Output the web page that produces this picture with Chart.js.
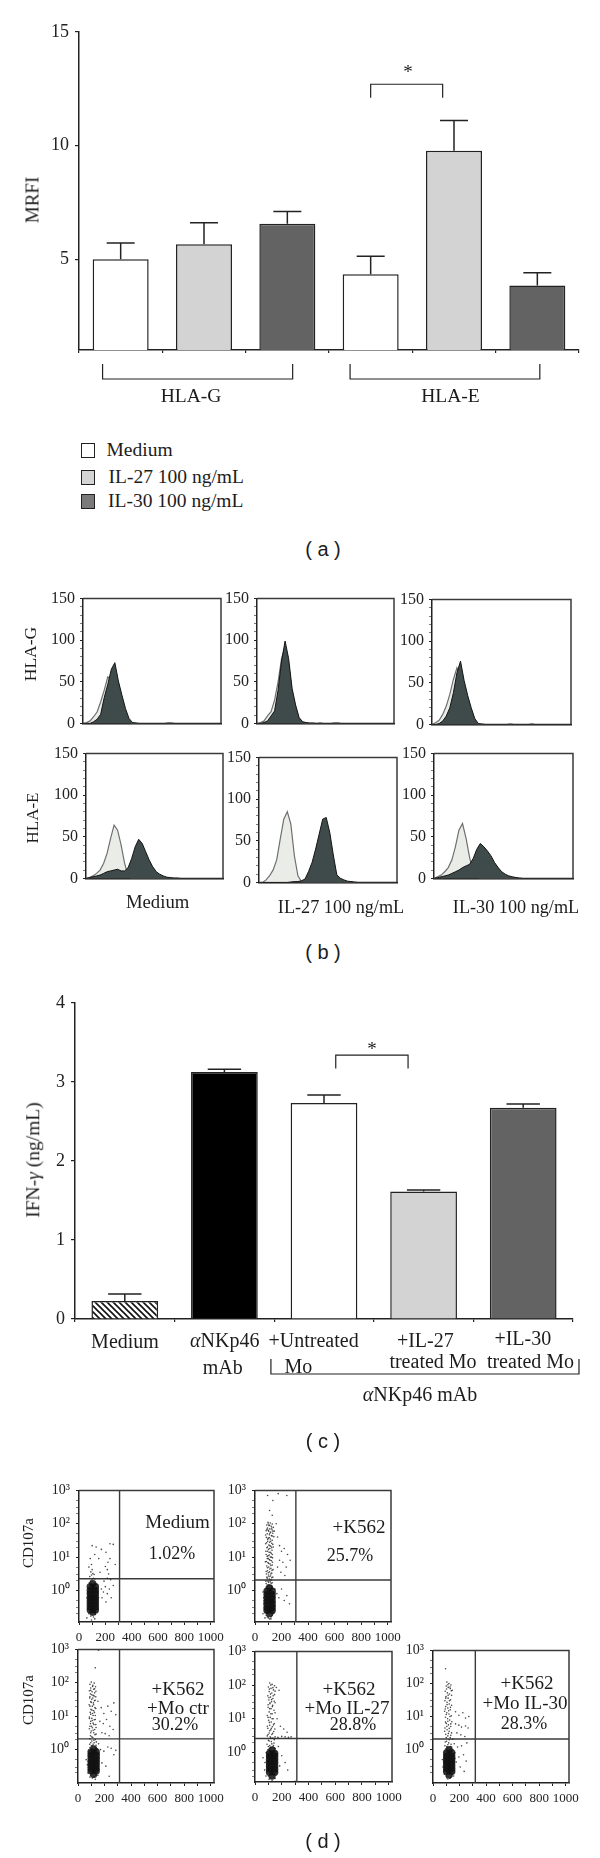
<!DOCTYPE html>
<html>
<head>
<meta charset="utf-8">
<script src="https://cdn.jsdelivr.net/npm/chart.js@4"></script>
<style>
  html, body { margin: 0; background: #fff; }
  #page { position: relative; width: 600px; height: 1858px; overflow: hidden; }
  canvas { position: absolute; }
  .t { position: absolute; white-space: nowrap; color: #1c1c1c; font-family: "Liberation Serif", serif; transform: translate(-50%, -50%); line-height: 1; }
  .r { transform: translate(-50%, -50%) rotate(-90deg); }
  .cap { font-family: "Liberation Sans", sans-serif; font-size: 20px; }
  .sw { position: absolute; width: 14px; box-sizing: border-box; border: 1.5px solid #222; }
</style>
</head>
<body>
<div id="page"></div>
<script>
// Panel (a)
const labelsA = ['G Medium', 'G IL-27', 'G IL-30', 'E Medium', 'E IL-27', 'E IL-30'];
const valuesA = [5.0, 5.66, 6.56, 4.33, 9.77, 3.84];
const errTopsA = [5.71, 6.6, 7.1, 5.13, 11.1, 4.4];
const ticksA = [5, 10, 15];

// Panel (c)
const labelsC = ['Medium', 'aNKp46 mAb', '+Untreated Mo', '+IL-27 treated Mo', '+IL-30 treated Mo'];
const valuesC = [0.227, 3.126, 2.734, 1.613, 2.675];
const errTopsC = [0.316, 3.16, 2.835, 1.634, 2.72];
const ticksC = [0, 1, 2, 3, 4];

// Panel (b) histogramas, 40 canales
const histTicks = [0, 10, 20, 30, 40, 50, 60, 70, 80, 90, 100, 110, 120, 130, 140, 150];
const gMediumLight = [0,1,3,8,14,26,40,56,52,50,32,22,10,3,0,0,0,0,0,0,0,0,0,0,0,0,0,0,0,0,0,0,0,0,0,0,0,0,0,0];
const gMediumDark = [0,0,0,2,5,11,31,47,65,73,51,34,18,6,1,0.5,0,0,0,0,0,0,0,0,0.5,0.5,0,0,0,0,0,0,0,0,0,0,0,0,0,0];
const gIl27Light = [0,1,3,9,14,28,50,78,92,70,35,16,5,1,0,0,0,0,0,0,0,0,0,0,0,0,0,0,0,0,0,0,0,0,0,0,0,0,0,0];
const gIl27Dark = [0,0,1,3,9,15,40,75,99,78,42,22,7,2,1,0.5,0.5,0,0.5,0,0,0,0.5,0.5,0,0,0,0,0,0,0,0,0,0,0,0,0,0,0,0];
const gIl30Light = [0,2,5,12,22,36,54,68,58,42,28,14,4,0,0,0,0,0,0,0,0,0,0,0,0,0,0,0,0,0,0,0,0,0,0,0,0,0,0,0];
const gIl30Dark = [0,0,1,4,10,20,38,62,76,53,35,20,7,1,0.5,0,0,0,0,0,0,0,0.5,0,0,0,0,0,0.5,0,0,0,0,0,0,0,0,0,0,0];
const eMediumLight = [0,1,3,6,10,18,30,48,64,58,40,18,3,0,0,0,0,0,0,0,0,0,0,0,0,0,0,0,0,0,0,0,0,0,0,0,0,0,0,0];
const eMediumDark = [0,1,2,3,4,6,8,9,10,11,9,9,13,24,38,47,42,32,22,14,8,5,3,1.5,1,0.5,0.5,0,0,0,0,0,0,0,0,0,0,0,0,0];
const eIl27Light = [0,0,3,8,15,27,52,76,85,70,32,8,1,0,0,0,0,0,0,0,0,0,0,0,0,0,0,0,0,0,0,0,0,0,0,0,0,0,0,0];
const eIl27Dark = [0,0,0,0,0,0,0,0,0,0.5,1,1,2,4,13,24,40,58,76,78,60,33,9,5,3,1.5,1,0.5,0,0,0,0,0,0,0,0,0,0,0,0];
const eIl30Light = [0,2,4,8,13,22,38,58,66,48,25,8,2,0,0,0,0,0,0,0,0,0,0,0,0,0,0,0,0,0,0,0,0,0,0,0,0,0,0,0];
const eIl30Dark = [0,1,2,3,4,6,8,10,13,15,17,24,35,42,38,33,27,19,13,8,5,3,2,1,0.5,0,0,0,0,0,0,0,0,0,0,0,0,0,0,0];

// Panel (d) citometría
const dotTicksX = [0, 100, 200, 300, 400, 500, 600, 700, 800, 900, 1000];
const dotTicksY = [0.2, 0.3, 0.5, 1, 2, 3, 5, 10, 20, 30, 50, 100, 200, 300, 500, 1000];
const decadeLabels = { 1: '10⁰', 10: '10¹', 100: '10²', 1000: '10³' };
const yMins = [0.113, 0.113, 0.1, 0.133, 0.098];
const quadX = [308, 308, 313, 313, 319];
const quadY = [2.25, 2.05, 2.1, 2.6, 2.1];
const coreMedium = [[105,1.6],[85,1.3],[125,1.3],[85,1],[125,1],[85,0.8],[125,0.8],[85,0.62],[125,0.62],[85,0.5],[125,0.5],[85,0.4],[125,0.4],[85,0.32],[125,0.32],[85,0.26],[125,0.26],[105,0.22]];
const dotsMedium = [[75,0.2],[90,0.17],[110,0.16],[125,0.19],[135,0.3],[70,0.3],[66,0.45],[62,0.6],[68,0.8],[72,1.1],[140,0.45],[148,0.6],[145,0.8],[140,1.1],[135,1.5],[78,1.7],[88,1.9],[98,2.1],[108,2.3],[120,2.2],[82,2.6],[95,2.9],[105,3.2],[90,3.6],[100,4.2],[115,3],[75,5],[95,6],[170,1.1],[185,0.9],[200,1.3],[215,0.8],[230,1.1],[245,0.6],[190,1.9],[215,2.3],[240,2.1],[260,1.4],[175,0.6],[205,0.45],[160,3.5],[215,4.2],[225,3.1],[200,5.2],[220,7],[235,9],[205,14],[170,17],[130,20],[100,22],[235,25],[260,24],[275,6],[150,9],[120,12],[85,9],[60,0.15],[95,0.13],[120,0.14],[85,1.4]];
const coreK562 = [[110,1.2],[90,0.95],[130,0.95],[90,0.75],[130,0.75],[90,0.6],[130,0.6],[90,0.47],[130,0.47],[90,0.38],[130,0.38],[90,0.3],[130,0.3],[90,0.25],[130,0.25],[110,0.2]];
const dotsK562 = [[98,110],[115,105],[130,98],[88,92],[105,88],[122,84],[138,78],[94,74],[112,70],[128,66],[84,62],[103,60],[118,56],[134,52],[92,50],[108,47],[124,44],[142,41],[86,39],[100,37],[116,35],[130,32],[96,30],[110,28],[126,26],[80,25],[104,23],[120,21],[138,20],[90,19],[112,18],[128,16],[94,15],[106,14],[122,13],[84,12],[100,11],[116,10],[132,9.5],[92,9],[108,8.4],[124,7.8],[78,7.2],[98,6.8],[114,6.2],[130,5.8],[88,5.4],[104,5],[120,4.6],[136,4.2],[94,3.9],[110,3.6],[126,3.3],[86,3.1],[102,2.9],[118,2.7],[134,2.5],[92,2.3],[108,2.2],[124,2.05],[98,1.9],[114,1.8],[130,1.7],[84,1.6],[104,1.5],[120,1.4],[96,1.3],[112,1.25],[128,1.2],[170,40],[185,22],[200,15],[220,18],[245,12],[265,8],[185,8],[210,7],[235,5],[170,5],[195,3.5],[225,2.8],[150,1.1],[165,0.8],[180,0.6],[200,1.1],[220,0.5],[240,0.7],[260,0.4],[160,100],[110,250],[135,500],[175,800],[95,700],[240,700],[130,180],[145,60],[60,0.2],[70,0.3],[140,0.2],[150,0.35],[75,0.15],[120,0.14],[65,0.6],[60,0.9],[148,0.6]];
const moreK562 = [[70,0.5],[74,0.7],[68,0.4],[72,0.28],[78,0.22],[84,0.18],[92,0.16],[100,0.15],[110,0.14],[120,0.16],[130,0.18],[138,0.22],[142,0.3],[146,0.42],[144,0.55],[140,0.7],[136,0.9],[132,1.1],[76,0.95],[80,1.15],[86,1.3],[92,1.1],[126,1.3],[100,98],[110,90],[126,74],[90,68],[100,64],[135,60],[112,52],[80,46],[130,43],[108,38],[96,34],[118,30],[88,27],[134,24],[112,22],[94,20],[126,19],[102,17],[82,15],[116,14],[130,12],[108,11.5],[92,10.5],[124,10],[100,9],[114,8],[86,7.4],[132,7],[104,6.4],[120,5.6],[94,4.8],[112,4.4],[128,4],[84,3.7],[100,3.4],[118,3.1],[106,2.6],[90,2.5],[126,2.4],[114,2.1],[102,1.75],[82,1.9],[122,1.65],[92,1.45],[110,1.4]];
const coreMoCtr = [[118,1.05],[98,0.85],[138,0.85],[98,0.68],[138,0.68],[98,0.54],[138,0.54],[98,0.43],[138,0.43],[98,0.35],[138,0.35],[98,0.28],[138,0.28],[98,0.23],[138,0.23],[118,0.18]];
const dotsMoCtr = [[100,105],[122,98],[90,90],[112,84],[132,76],[96,70],[118,64],[86,58],[106,54],[126,50],[94,46],[114,42],[134,38],[88,35],[104,32],[124,29],[96,27],[116,25],[84,22],[108,20],[128,18],[98,16],[118,14.5],[92,13],[110,12],[130,10.5],[86,9.5],[104,8.6],[122,7.8],[96,7],[114,6.2],[134,5.6],[90,5],[108,4.5],[126,4],[100,3.6],[118,3.2],[136,2.9],[94,2.6],[112,2.3],[130,2],[104,1.8],[122,1.6],[88,1.45],[110,1.3],[128,1.15],[98,1.05],[116,0.95],[138,0.9],[150,28],[175,18],[195,12],[225,20],[250,14],[270,25],[285,11],[165,7],[190,6],[215,8],[240,5],[265,4],[180,3.2],[205,3],[235,2.6],[155,1.5],[170,1],[195,0.9],[225,1.2],[250,1.1],[270,0.7],[285,0.95],[160,0.55],[180,0.4],[210,0.32],[235,0.16],[150,0.25],[70,0.35],[62,0.5],[75,0.2],[90,0.15],[130,0.13],[150,0.17],[130,280],[155,950],[80,0.7],[158,0.7]];
const moreMoCtr = [[76,0.45],[80,0.62],[78,0.3],[84,0.22],[95,0.17],[108,0.14],[122,0.15],[136,0.17],[148,0.22],[152,0.34],[156,0.46],[152,0.6],[150,0.82],[146,1.05],[84,0.9],[90,1.15],[100,1.3],[136,1.35],[110,78],[125,66],[96,60],[135,56],[104,44],[122,40],[90,38],[112,35],[130,30],[100,26],[118,22],[90,20],[134,17],[106,15],[124,13],[96,11.5],[114,10.5],[86,8.6],[130,8],[108,7.4],[94,6],[120,5.6],[102,5],[136,4.6],[86,4.2],[114,3.8],[96,3.2],[128,2.8],[104,2.4],[90,2.1],[120,1.9],[138,1.7],[96,1.6],[114,1.45]];
const coreMoIl27 = [[128,1.2],[108,0.95],[148,0.95],[108,0.78],[148,0.78],[108,0.62],[148,0.62],[108,0.5],[148,0.5],[108,0.4],[148,0.4],[108,0.32],[148,0.32],[108,0.26],[148,0.26],[128,0.2]];
const dotsMoIl27 = [[110,115],[128,105],[146,95],[100,88],[120,80],[138,72],[160,85],[180,70],[106,64],[126,58],[146,52],[96,48],[116,44],[134,40],[104,36],[124,32],[150,30],[112,28],[132,25],[98,22],[120,20],[142,18],[106,16],[128,14],[92,12.5],[114,11],[136,10],[102,9],[122,8],[144,7.2],[110,6.4],[130,5.8],[96,5.2],[118,4.7],[140,4.2],[106,3.8],[126,3.4],[92,3.1],[114,2.9],[134,2.7],[150,2.9],[172,2.8],[200,3],[225,2.9],[250,2.8],[270,2.9],[100,2.3],[122,2.1],[142,1.9],[90,1.75],[110,1.6],[132,1.45],[150,1.3],[96,1.2],[118,1.12],[140,1.05],[84,1],[165,10],[190,6],[215,5],[240,4],[175,1.5],[200,0.8],[225,0.5],[245,0.3],[165,0.7],[185,0.4],[160,0.25],[75,0.5],[72,0.3],[82,0.2],[105,0.16],[150,0.17],[300,0.14],[60,0.7]];
const moreMoIl27 = [[86,0.55],[90,0.75],[88,0.4],[92,0.27],[100,0.2],[112,0.17],[128,0.15],[142,0.18],[156,0.22],[160,0.34],[166,0.48],[162,0.62],[160,0.85],[156,1.05],[96,1.05],[104,1.25],[118,1.4],[146,1.35],[118,100],[134,84],[108,76],[150,66],[116,54],[136,48],[104,42],[124,37],[144,33],[112,30],[98,26],[130,23],[110,20],[150,15],[118,14],[98,11],[128,10],[108,7.8],[138,6.6],[92,6],[122,5.2],[148,5],[110,4.4],[132,3.7],[98,3.4],[120,2.7],[144,2.4],[106,2.2],[126,1.8],[100,1.5],[138,1.6],[116,1.35]];
const coreMoIl30 = [[122,1],[102,0.8],[142,0.8],[102,0.64],[142,0.64],[102,0.52],[142,0.52],[102,0.42],[142,0.42],[102,0.34],[142,0.34],[102,0.27],[142,0.27],[102,0.22],[142,0.22],[122,0.17]];
const dotsMoIl30 = [[95,280],[105,110],[120,100],[135,90],[100,84],[115,76],[130,70],[145,62],[92,58],[108,52],[124,48],[140,44],[98,40],[114,36],[132,32],[90,30],[106,27],[122,24],[140,22],[96,20],[112,18],[130,16],[88,14.5],[104,13],[120,12],[138,10.5],[94,9.5],[110,8.6],[126,7.8],[142,7],[100,6.2],[116,5.6],[134,5],[90,4.5],[106,4],[122,3.6],[140,3.2],[96,2.9],[112,2.6],[130,2.3],[148,2.05],[102,1.8],[118,1.6],[136,1.45],[90,1.3],[108,1.15],[126,1.05],[144,0.95],[170,14],[195,11],[225,13],[245,9],[270,10],[170,6],[195,5.5],[215,4.8],[245,5.2],[265,4.5],[180,3.2],[210,2.8],[240,2.5],[160,1.5],[185,1.2],[215,1.3],[255,1.6],[165,0.8],[195,0.6],[230,0.7],[250,0.45],[175,0.42],[205,0.3],[235,0.22],[160,0.26],[155,0.16],[75,0.3],[70,0.5],[85,0.18],[105,0.14],[130,0.14],[165,0.55]];
const moreMoIl30 = [[80,0.42],[84,0.58],[82,0.3],[88,0.22],[98,0.16],[112,0.13],[126,0.14],[140,0.16],[152,0.2],[156,0.3],[160,0.44],[156,0.58],[154,0.78],[150,0.98],[88,0.86],[94,1.05],[104,1.25],[140,1.2],[112,92],[128,78],[102,68],[138,60],[114,44],[96,36],[124,30],[106,23],[132,19],[92,17],[118,15],[100,11.5],[128,10],[112,7.2],[94,6.8],[134,6],[104,5],[122,4.4],[88,3.6],[116,3.1],[134,2.7],[100,2.3],[122,2],[92,1.7],[112,1.4],[132,1.25]];

const page = document.getElementById('page');
const FONT = 'Liberation Serif';
const INK = '#222';

function text(html, x, y, size, rot) {
  const el = document.createElement('div');
  el.className = 't' + (rot ? ' r' : '');
  el.style.left = x + 'px';
  el.style.top = y + 'px';
  el.style.fontSize = size + 'px';
  el.innerHTML = html;
  page.appendChild(el);
}

// Crea un canvas cuya área de trazado cae justo en box
function mount(box, axisW, axisH, padT, padR) {
  const c = document.createElement('canvas');
  const w = box.r - box.l + axisW + padR, h = box.b - box.t + padT + axisH;
  c.style.left = (box.l - axisW) + 'px';
  c.style.top = (box.t - padT) + 'px';
  c.style.width = w + 'px';
  c.style.height = h + 'px';
  c.width = w;
  c.height = h;
  page.appendChild(c);
  return c;
}

function baseOptions(axisW, axisH, padT, padR) {
  return {
    responsive: false, animation: false, events: [],
    layout: { autoPadding: false, padding: { top: padT, right: padR, left: 0, bottom: 0 } },
    plugins: { legend: { display: false }, tooltip: { enabled: false } }
  };
}

// Barras de error (solo hacia arriba) y corchetes, todo por las escalas
const whiskers = {
  id: 'whiskers',
  afterDatasetsDraw(chart, args, opts) {
    const { ctx, scales: { x, y } } = chart;
    const bars = chart.getDatasetMeta(0).data;
    ctx.save();
    ctx.strokeStyle = INK;
    ctx.lineWidth = 1.5;
    opts.tops.forEach((top, i) => {
      const px = x.getPixelForValue(i), half = bars[i].width / 4;
      ctx.beginPath();
      ctx.moveTo(px, y.getPixelForValue(opts.values[i]));
      ctx.lineTo(px, y.getPixelForValue(top));
      ctx.moveTo(px - half, y.getPixelForValue(top));
      ctx.lineTo(px + half, y.getPixelForValue(top));
      ctx.stroke();
    });
    ctx.lineWidth = 1.2;
    (opts.sig || []).forEach(s => {
      const a = x.getPixelForValue(s.from), b = x.getPixelForValue(s.to);
      ctx.beginPath();
      ctx.moveTo(a, y.getPixelForValue(s.low));
      ctx.lineTo(a, y.getPixelForValue(s.high));
      ctx.lineTo(b, y.getPixelForValue(s.high));
      ctx.lineTo(b, y.getPixelForValue(s.low));
      ctx.stroke();
    });
    // corchetes de grupo bajo el eje
    (opts.groups || []).forEach(g => {
      const a = x.getPixelForValue(g.from), b = x.getPixelForValue(g.to);
      const bottom = y.bottom;
      ctx.beginPath();
      ctx.moveTo(a, bottom + g.y0);
      ctx.lineTo(a, bottom + g.y1);
      ctx.lineTo(b, bottom + g.y1);
      ctx.lineTo(b, bottom + g.y0);
      ctx.stroke();
    });
    ctx.restore();
  }
};

// Marco completo del citómetro
const frame = {
  id: 'frame',
  afterDraw(chart) {
    const { ctx, chartArea: a } = chart;
    ctx.save();
    ctx.strokeStyle = '#3a3a3a';
    ctx.lineWidth = 1.5;
    ctx.beginPath();
    ctx.moveTo(a.left, a.top);
    ctx.lineTo(a.right, a.top);
    ctx.lineTo(a.right, a.bottom);
    ctx.stroke();
    ctx.restore();
  }
};

function hatch() {
  const p = document.createElement('canvas');
  p.width = 6; p.height = 6;
  const c = p.getContext('2d');
  c.fillStyle = '#fff';
  c.fillRect(0, 0, 6, 6);
  c.strokeStyle = '#111';
  c.lineWidth = 1.6;
  c.beginPath();
  c.moveTo(-1, -1); c.lineTo(7, 7);
  c.moveTo(-4, 2); c.lineTo(2, 8);
  c.moveTo(4, -2); c.lineTo(8, 2);
  c.stroke();
  return c.createPattern(p, 'repeat');
}

function barChart(box, labels, values, tops, fills, ticks, min, max, barPct, fontSize, extra) {
  const axisW = box.l, axisH = 80, padT = 30, padR = 600 - box.r;
  new Chart(mount(box, axisW, axisH, padT, padR), {
    type: 'bar',
    data: { labels, datasets: [{ data: values, backgroundColor: fills, borderColor: INK, borderWidth: 1.5, barPercentage: barPct, categoryPercentage: 1 }] },
    options: {
      ...baseOptions(axisW, axisH, padT, padR),
      plugins: { legend: { display: false }, tooltip: { enabled: false }, whiskers: { tops, values, ...extra } },
      scales: {
        x: {
          afterFit: s => { s.height = axisH; },
          border: { color: INK, width: 1.5 },
          grid: { drawOnChartArea: false, tickLength: 3, color: INK, lineWidth: 1.2 },
          ticks: { display: false }
        },
        y: {
          min, max,
          afterFit: s => { s.width = axisW; },
          afterBuildTicks: s => { s.ticks = ticks.map(value => ({ value })); },
          border: { color: INK, width: 1.5 },
          grid: { drawOnChartArea: false, tickLength: 4, color: INK, lineWidth: 1.2 },
          ticks: { color: INK, padding: 6, autoSkip: false, font: { family: FONT, size: fontSize } }
        }
      }
    },
    plugins: [whiskers]
  });
}

// (a)
const GREY_L = '#d3d3d3', GREY_D = '#636363';
barChart({ l: 79, r: 579, t: 32, b: 350 }, labelsA, valuesA, errTopsA,
  ['#fff', GREY_L, GREY_D, '#fff', GREY_L, GREY_D], ticksA, 1, 15, 0.672, 18, {
    sig: [{ from: 3, to: 3.864, high: 12.7, low: 12.11 }],
    groups: [{ from: -0.217, to: 2.064, y0: 14, y1: 29 }, { from: 2.753, to: 5.03, y0: 14, y1: 29 }]
  });
text('MRFI', 31.5, 200, 19, true);
text('*', 408, 71, 19);
text('HLA-G', 191, 395.6, 19.5);
text('HLA-E', 450.5, 395.6, 19.5);
[[442.5, '#fff', 'Medium', 106.5], [469.5, GREY_L, 'IL-27 100 ng/mL', 108.5], [493.5, '#7a7a7a', 'IL-30 100 ng/mL', 108]].forEach(([y, col, name, x]) => {
  const s = document.createElement('div');
  s.className = 'sw';
  s.style.cssText = `left:80.5px;top:${y}px;height:15px;background:${col}`;
  page.appendChild(s);
  const el = document.createElement('div');
  el.className = 't';
  el.style.cssText = `left:${x}px;top:${y + 7}px;font-size:19.5px;transform:translate(0,-50%)`;
  el.textContent = name;
  page.appendChild(el);
});
text('( a )', 323, 548.6, 20);
page.lastChild.classList.add('cap');

// (b)
function histChart(box, light, dark) {
  const axisW = 60, axisH = 4, padT = 12, padR = 4;
  new Chart(mount(box, axisW, axisH, padT, padR), {
    type: 'line',
    data: {
      labels: light.map((_, i) => i),
      datasets: [
        { data: dark, borderColor: '#141414', borderWidth: 1, backgroundColor: '#3f4a4a', fill: 'origin', pointRadius: 0, tension: 0 },
        { data: light, borderColor: '#6e706e', borderWidth: 1.2, backgroundColor: '#e9ece7', fill: 'origin', pointRadius: 0, tension: 0 }
      ]
    },
    options: {
      ...baseOptions(axisW, axisH, padT, padR),
      scales: {
        x: {
          afterFit: s => { s.height = axisH; },
          border: { color: '#111', width: 1.5 },
          grid: { display: false },
          ticks: { display: false }
        },
        y: {
          min: 0, max: 150,
          afterFit: s => { s.width = axisW; },
          afterBuildTicks: s => { s.ticks = histTicks.map(value => ({ value })); },
          border: { color: INK, width: 1.5 },
          grid: { drawOnChartArea: false, tickLength: 3, color: INK, tickWidth: c => (c.tick.value % 50 ? 0.6 : 1.2) },
          ticks: {
            color: INK, padding: 5, autoSkip: false, maxRotation: 0,
            font: { family: FONT, size: 16 },
            callback: v => (v % 50 ? '' : v)
          }
        }
      }
    },
    plugins: [frame]
  });
}
histChart({ l: 83, r: 221, t: 596, b: 734 }, gMediumLight, gMediumDark);
histChart({ l: 257, r: 394, t: 596, b: 734 }, gIl27Light, gIl27Dark);
histChart({ l: 432, r: 571, t: 597, b: 735 }, gIl30Light, gIl30Dark);
histChart({ l: 86, r: 223, t: 751, b: 889 }, eMediumLight, eMediumDark);
histChart({ l: 259, r: 397, t: 755, b: 893 }, eIl27Light, eIl27Dark);
histChart({ l: 434, r: 573, t: 751, b: 889 }, eIl30Light, eIl30Dark);
text('HLA-G', 31, 654, 17.5, true);
text('HLA-E', 32, 818, 17, true);
text('Medium', 157.6, 901.7, 18.7);
text('IL-27 100 ng/mL', 341, 907, 18.2);
text('IL-30 100 ng/mL', 516, 907, 18.2);
text('( b )', 323, 951.6, 20);
page.lastChild.classList.add('cap');

// (c)
barChart({ l: 75, r: 573, t: 1003, b: 1319 }, labelsC, valuesC, errTopsC,
  [hatch(), '#000', '#fff', GREY_L, GREY_D], ticksC, 0, 4, 0.67, 18, {
    sig: [{ from: 2.118, to: 2.844, high: 3.34, low: 3.17 }],
    groups: [{ from: 1.467, to: 4.56, y0: 40, y1: 55 }]
  });
text('IFN-<i>γ</i> (ng/mL)', 32.7, 1160, 19.5, true);
text('*', 372, 1048, 19);
text('Medium', 125, 1341, 20);
text('<i>α</i>NKp46', 224.7, 1340, 20);
text('mAb', 222.7, 1367, 20);
text('+Untreated', 313.6, 1340, 20);
text('Mo', 298.3, 1365.7, 20);
text('+IL-27', 425.3, 1340, 20);
text('treated Mo', 433, 1360.7, 20);
text('+IL-30', 522.8, 1338, 20);
text('treated Mo', 530.5, 1360.7, 20);
text('<i>α</i>NKp46 mAb', 420, 1394, 20);
text('( c )', 323, 1441, 20);
page.lastChild.classList.add('cap');

// (d)
function dotChart(box, core, dots, i) {
  const axisW = 60, axisH = 30, padT = 12, padR = 20;
  const toXY = p => ({ x: p[0], y: p[1] });
  new Chart(mount(box, axisW, axisH, padT, padR), {
    type: 'scatter',
    data: {
      datasets: [
        { data: dots.map(toXY), pointRadius: 0.8, pointBackgroundColor: 'rgba(25,25,25,0.8)', pointBorderWidth: 0 },
        { data: core.map(toXY), pointRadius: 3.6, pointBackgroundColor: 'rgba(15,15,15,0.85)', pointBorderWidth: 0 },
        { data: [{ x: quadX[i], y: yMins[i] }, { x: quadX[i], y: 1000 }], showLine: true, borderColor: '#3a3a3a', borderWidth: 1.4, pointRadius: 0 },
        { data: [{ x: 0, y: quadY[i] }, { x: 1025, y: quadY[i] }], showLine: true, borderColor: '#3a3a3a', borderWidth: 1.4, pointRadius: 0 }
      ]
    },
    options: {
      ...baseOptions(axisW, axisH, padT, padR),
      scales: {
        x: {
          type: 'linear', min: 0, max: 1025,
          afterFit: s => { s.height = axisH; },
          afterBuildTicks: s => { s.ticks = dotTicksX.map(value => ({ value })); },
          border: { color: INK, width: 1.5 },
          grid: { drawOnChartArea: false, tickLength: 3, color: INK },
          ticks: {
            color: INK, padding: 5, autoSkip: false, maxRotation: 0,
            font: { family: FONT, size: 13 },
            callback: v => (v % 200 ? '' : v)
          }
        },
        y: {
          type: 'logarithmic', min: yMins[i], max: 1000,
          afterFit: s => { s.width = axisW; },
          afterBuildTicks: s => { s.ticks = dotTicksY.map(value => ({ value })); },
          border: { color: INK, width: 1.5 },
          grid: { drawOnChartArea: false, tickLength: 3, color: INK, tickWidth: c => (decadeLabels[c.tick.value] ? 1.2 : 0.6) },
          ticks: {
            color: INK, padding: 6, autoSkip: false,
            font: { family: FONT, size: 14 },
            callback: v => decadeLabels[v] || ''
          }
        }
      }
    },
    plugins: [frame]
  });
}
dotChart({ l: 79, r: 214, t: 1488, b: 1622 }, coreMedium, dotsMedium, 0);
dotChart({ l: 255, r: 391, t: 1488, b: 1622 }, coreK562, dotsK562.concat(moreK562), 1);
dotChart({ l: 78, r: 214, t: 1647, b: 1783 }, coreMoCtr, dotsMoCtr.concat(moreMoCtr), 2);
dotChart({ l: 255, r: 392, t: 1649, b: 1782 }, coreMoIl27, dotsMoIl27.concat(moreMoIl27), 3);
dotChart({ l: 433, r: 569, t: 1648, b: 1783 }, coreMoIl30, dotsMoIl30.concat(moreMoIl30), 4);
text('CD107a', 28, 1543, 15, true);
text('CD107a', 28, 1700, 15, true);
text('Medium', 177.5, 1521, 19);
text('1.02%', 172, 1553, 18);
text('+K562', 359, 1526, 19);
text('25.7%', 350, 1555, 18);
text('+K562', 178, 1688, 19);
text('+Mo ctr', 178, 1707, 19);
text('30.2%', 175, 1724, 18);
text('+K562', 349, 1688, 19);
text('+Mo IL-27', 347, 1707, 19);
text('28.8%', 353, 1724, 18);
text('+K562', 527, 1682, 19);
text('+Mo IL-30', 525, 1702, 19);
text('28.3%', 524, 1723, 18);
text('( d )', 323, 1841, 20);
page.lastChild.classList.add('cap');
</script>
</body>
</html>
